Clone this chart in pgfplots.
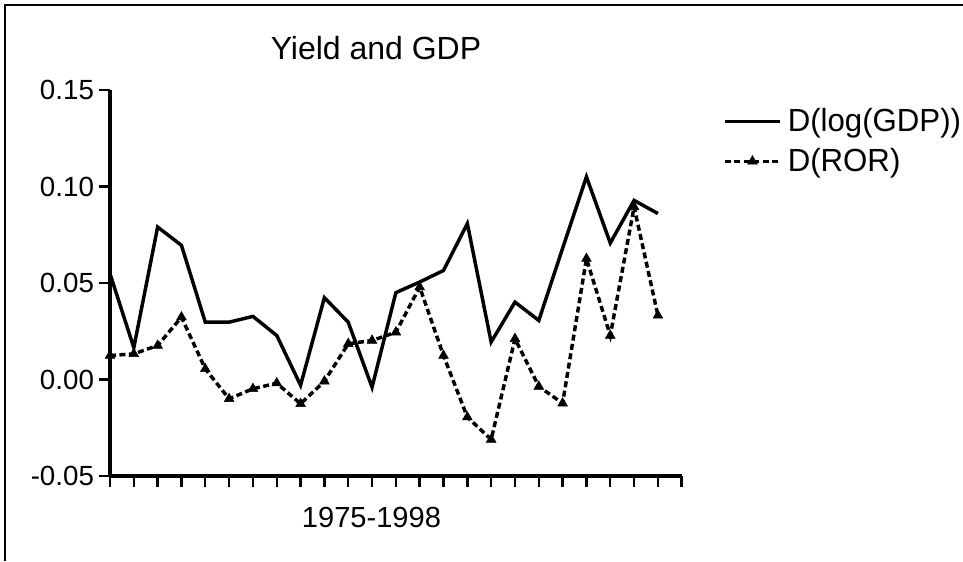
\documentclass[border=0pt]{standalone}
\usepackage{fontspec}
\setmainfont{Liberation Sans}
\usepackage{pgfplots}
\pgfplotsset{compat=1.18}
\begin{document}
\begin{tikzpicture}
\useasboundingbox (-82.5pt,-63.75pt) rectangle (639.75pt,357pt);
\draw[line width=1.5pt] (-78.75pt,-63.75pt) -- (-78.75pt,353.25pt) -- (639.75pt,353.25pt);
\begin{axis}[
  scale only axis, width=428.8pt, height=289.5pt,
  at={(0pt,0pt)}, anchor=south west,
  xmin=1975, xmax=1999, ymin=-0.05, ymax=0.15,
  axis x line*=bottom, axis y line*=left,
  axis line style={-, line width=2.5pt},
  xtick={1975,...,1999}, xticklabels={},
  ytick={-0.05,0,0.05,0.1,0.15},
  yticklabels={-0.05,0.00,0.05,0.10,0.15},
  tick align=outside, major tick length=8.5pt,
  tick style={line width=1.8pt, black},
  yticklabel style={font=\fontsize{20.8}{24}\selectfont},
  /pgf/number format/assume math mode=true,
  clip=false,
  legend cell align=left,
  legend image code/.code={\draw[mark repeat=2,mark phase=2,#1] plot coordinates {(0pt,0pt) (20.6pt,0pt) (41.25pt,0pt)};},
  legend style={at={(rel axis cs:1.0722,0.952)}, anchor=north west, draw=none, fill=none,
    font=\fontsize{24}{28}\selectfont, inner sep=0pt, row sep=11pt, column sep=4.5pt,
    nodes={inner sep=0pt}},
]
\addplot[black, line width=2.6pt, no marks] coordinates {
(1975,0.0548) (1976,0.0165) (1977,0.0790) (1978,0.0695) (1979,0.0297)
(1980,0.0297) (1981,0.0327) (1982,0.0228) (1983,-0.0030) (1984,0.0424)
(1985,0.0297) (1986,-0.0040) (1987,0.0450) (1988,0.0505) (1989,0.0565)
(1990,0.0808) (1991,0.0194) (1992,0.0401) (1993,0.0306) (1994,0.0680)
(1995,0.1050) (1996,0.0707) (1997,0.0928) (1998,0.0860)};
\addlegendentry{\scalebox{0.975}[1]{D(log(GDP))}}
\addplot[black, line width=2.6pt, dash pattern=on 4.5pt off 2.6pt, mark=triangle*, mark size=4.2pt,
  mark options={solid, line width=0.4pt}] coordinates {
(1975,0.0124) (1976,0.0133) (1977,0.0176) (1978,0.0323) (1979,0.0055)
(1980,-0.0100) (1981,-0.0048) (1982,-0.0019) (1983,-0.0126) (1984,-0.0009)
(1985,0.0185) (1986,0.0202) (1987,0.0245) (1988,0.0479) (1989,0.0124)
(1990,-0.0195) (1991,-0.0311) (1992,0.0211) (1993,-0.0036) (1994,-0.0123)
(1995,0.0626) (1996,0.0228) (1997,0.0894) (1998,0.0332)};
\addlegendentry{\scalebox{0.975}[1]{D(ROR)}}
\end{axis}
\node[anchor=base, font=\fontsize{24}{28}\selectfont, inner sep=0pt] at (199.5pt,312pt) {Yield and GDP};
\node[anchor=base, font=\fontsize{21.8}{25}\selectfont, inner sep=0pt] at (196.1pt,-38.25pt) {1975-1998};
\end{tikzpicture}
\end{document}
